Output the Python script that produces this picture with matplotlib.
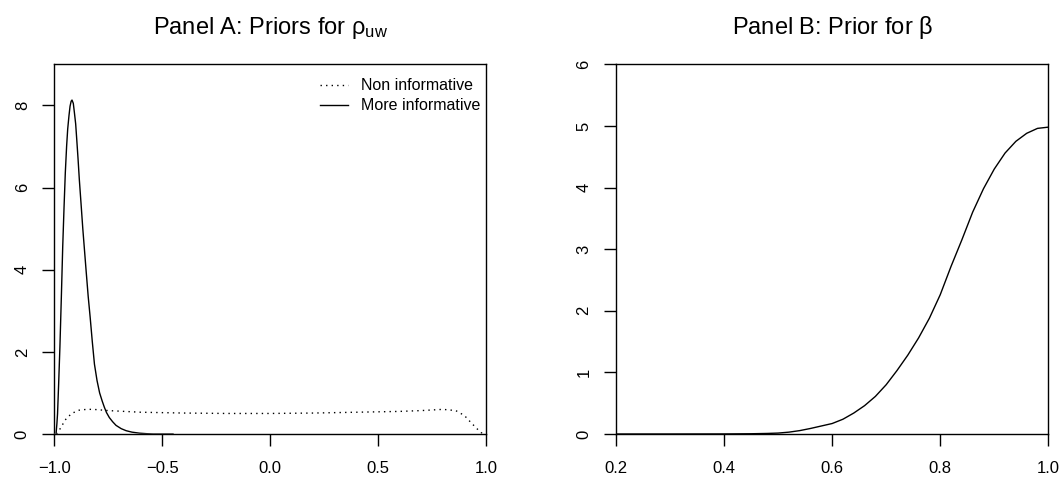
import matplotlib
matplotlib.use("Agg")
import matplotlib.pyplot as plt

plt.rcParams["font.family"] = ["Liberation Sans", "DejaVu Sans"]
plt.rcParams["mathtext.fontset"] = "custom"
plt.rcParams["mathtext.rm"] = "Liberation Sans"
plt.rcParams["mathtext.it"] = "Liberation Sans:italic"

# Panel A: priors for rho_uw
more_x = [-0.992, -0.988, -0.985, -0.980, -0.974, -0.967, -0.961, -0.955, -0.949, -0.943,
          -0.938, -0.932, -0.927, -0.922, -0.918, -0.912, -0.907, -0.901, -0.896, -0.890,
          -0.884, -0.876, -0.868, -0.853, -0.843, -0.834, -0.824, -0.814, -0.802, -0.790,
          -0.778, -0.768, -0.758, -0.745, -0.730, -0.714, -0.690, -0.667, -0.640, -0.605,
          -0.570, -0.543, -0.450]
more_y = [0.0, 0.25, 0.49, 1.2, 2.12, 3.4, 4.56, 5.5, 6.36, 7.0,
          7.42, 7.75, 7.98, 8.1, 8.13, 8.05, 7.83, 7.55, 7.17, 6.7,
          6.19, 5.6, 5.0, 4.0, 3.35, 2.85, 2.25, 1.7, 1.3, 1.0,
          0.8, 0.65, 0.52, 0.4, 0.3, 0.21, 0.13, 0.08, 0.045, 0.02,
          0.007, 0.0, 0.0]

non_x = [-0.99, -0.97, -0.95, -0.92, -0.885, -0.85, -0.82, -0.75, -0.6, -0.4, -0.2,
         0.0, 0.2, 0.4, 0.6, 0.7, 0.8, 0.86, 0.9, 0.93, 0.96, 0.985]
non_y = [0.0, 0.15, 0.34, 0.5, 0.58, 0.6, 0.6, 0.57, 0.53, 0.51, 0.5,
         0.5, 0.51, 0.53, 0.55, 0.57, 0.6, 0.57, 0.45, 0.28, 0.12, 0.0]

# Panel B: prior for beta
beta_x = [0.2, 0.3, 0.4, 0.45, 0.48, 0.50, 0.52, 0.54, 0.56, 0.58, 0.60, 0.62, 0.64,
          0.66, 0.68, 0.70, 0.72, 0.74, 0.76, 0.78, 0.80, 0.82, 0.84, 0.86, 0.88,
          0.90, 0.92, 0.94, 0.96, 0.98, 1.0]
beta_y = [0.0, 0.0, 0.001, 0.004, 0.009, 0.015, 0.03, 0.055, 0.09, 0.13, 0.17, 0.24, 0.34,
          0.46, 0.61, 0.80, 1.03, 1.28, 1.56, 1.88, 2.26, 2.72, 3.15, 3.60, 3.98,
          4.30, 4.56, 4.75, 4.88, 4.96, 4.98]

W, H = 1063, 484


def r_style(ax):
    for s in ax.spines.values():
        s.set_linewidth(1.0)
        s.set_zorder(1)
    ax.tick_params(direction="out", length=8.6, width=1.0, labelsize=12)
    ax.tick_params(axis="x", pad=11)
    ax.tick_params(axis="y", labelrotation=90, pad=9)
    for lab in ax.get_yticklabels():
        lab.set_va("center")


fig = plt.figure(figsize=(W / 100, H / 100), dpi=100)

ax1 = fig.add_axes([54.3 / W, 1 - 434 / H, 431.7 / W, 369.7 / H])
ax1.plot(non_x, non_y, color="black", lw=1.0, linestyle=(0, (1, 3)), label="Non informative")
ax1.plot(more_x, more_y, color="black", lw=1.0, label="More informative")
ax1.axhline(0, color="#BEBEBE", lw=1.0, zorder=3)
ax1.set_xlim(-1, 1)
ax1.set_ylim(0, 9)
ax1.set_xticks([-1.0, -0.5, 0.0, 0.5, 1.0])
ax1.set_xticklabels(["\u22121.0", "\u22120.5", "0.0", "0.5", "1.0"])
ax1.set_yticks([0, 2, 4, 6, 8])
r_style(ax1)
ax1.set_title(r"Panel A: Priors for $\mathrm{\rho_{uw}}$", fontsize=17, pad=22)
ax1.legend(loc="upper right", bbox_to_anchor=(0.986, 0.962), frameon=False,
           fontsize=11.5, handlelength=1.75, handletextpad=0.8, labelspacing=0.3,
           borderpad=0, borderaxespad=0)

ax2 = fig.add_axes([616.0 / W, 1 - 434 / H, 432.3 / W, 369.7 / H])
ax2.plot(beta_x, beta_y, color="black", lw=1.0)
ax2.set_xlim(0.2, 1.0)
ax2.set_ylim(0, 6)
ax2.set_xticks([0.2, 0.4, 0.6, 0.8, 1.0])
ax2.set_yticks([0, 1, 2, 3, 4, 5, 6])
r_style(ax2)
ax2.set_title(r"Panel B: Prior for $\mathrm{\beta}$", fontsize=17, pad=22)

fig.savefig("out.png", dpi=100)
